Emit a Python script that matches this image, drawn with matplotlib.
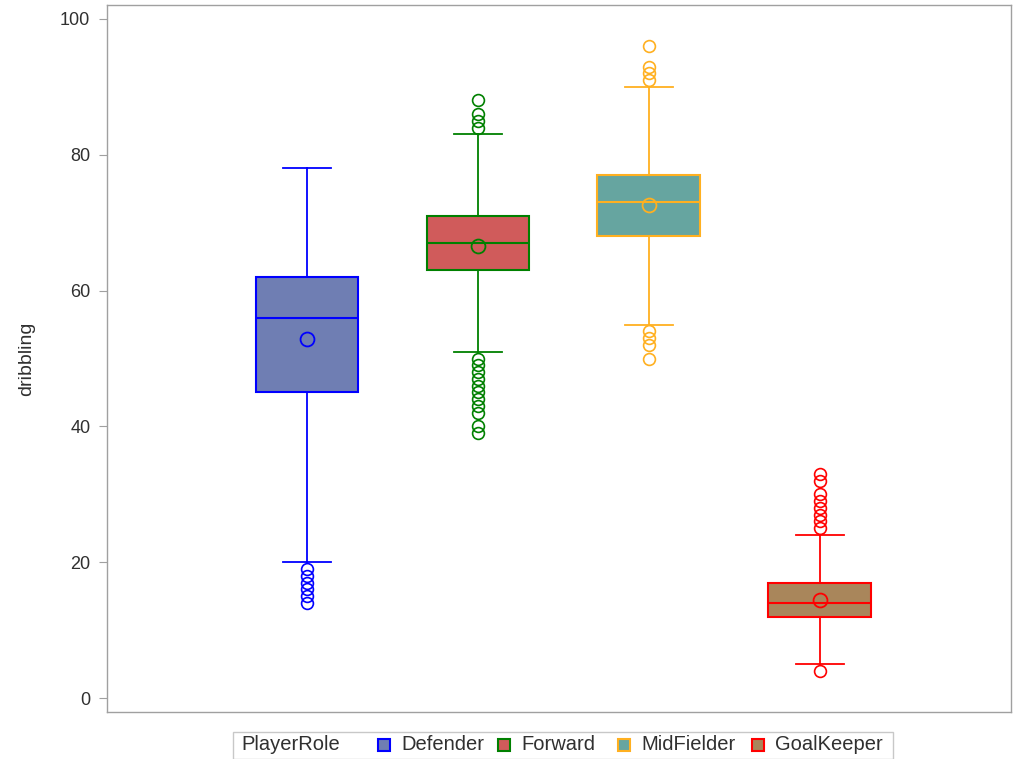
import matplotlib
matplotlib.use("Agg")
import matplotlib.pyplot as plt
from matplotlib.patches import Rectangle

plt.rcParams['font.family'] = ['Liberation Sans', 'DejaVu Sans']

# Box statistics of dribbling per player role
roles = ["Defender", "Forward", "MidFielder", "GoalKeeper"]
whisker_low = [20, 51, 55, 5]
q1 = [45, 63, 68, 12]
median = [56, 67, 73, 14]
q3 = [62, 71, 77, 17]
whisker_high = [78, 83, 90, 24]
means = [52.8, 66.5, 72.6, 14.5]
outliers_defender = [14, 15, 16, 17, 18, 19]
outliers_forward = [39, 40, 42, 43, 44, 45, 46, 47, 48, 49, 50, 84, 85, 86, 88]
outliers_midfielder = [50, 52, 53, 54, 91, 92, 93, 96]
outliers_goalkeeper = [4, 25, 26, 27, 28, 29, 30, 32, 33]
outliers = [outliers_defender, outliers_forward, outliers_midfielder, outliers_goalkeeper]

fill_colors = ["#6F7EB3", "#D05B5B", "#66A5A0", "#A9865B"]
edge_colors = ["#0000FF", "#008000", "#FFB020", "#FF0000"]
y_ticks = [0, 20, 40, 60, 80, 100]

W, H = 1013, 759
fig = plt.figure(figsize=(W / 100, H / 100), dpi=100)
ax = fig.add_axes([107 / W, (H - 712) / H, (1011 - 107) / W, (712 - 5) / H])

positions = list(range(len(roles)))
for i, role in enumerate(roles):
    stats = [{
        "whislo": whisker_low[i], "q1": q1[i], "med": median[i], "q3": q3[i],
        "whishi": whisker_high[i], "mean": means[i], "fliers": outliers[i], "label": role,
    }]
    ec = edge_colors[i]
    ax.bxp(
        stats, positions=[positions[i]], widths=0.6, capwidths=0.28,
        patch_artist=True, showmeans=True, showfliers=True,
        boxprops=dict(facecolor=fill_colors[i], edgecolor=ec, linewidth=1.5),
        medianprops=dict(color=ec, linewidth=1.5),
        whiskerprops=dict(color=ec, linewidth=1.3),
        capprops=dict(color=ec, linewidth=1.3),
        meanprops=dict(marker="o", markerfacecolor="none", markeredgecolor=ec,
                       markersize=10, markeredgewidth=1.3),
        flierprops=dict(marker="o", markerfacecolor="none", markeredgecolor=ec,
                        markersize=8.5, markeredgewidth=1.2),
    )

ax.set_xlim(-1.17, 4.12)
ax.set_ylim(-2.06, 102.06)
ax.set_xticks([])
ax.set_yticks(y_ticks)
ax.set_yticklabels([str(t) for t in y_ticks])
ax.tick_params(axis="y", direction="out", length=6, color="#A0A0A0",
               labelsize=13, labelcolor="#303030", pad=6)
for s in ax.spines.values():
    s.set_color("#A0A0A0")
    s.set_linewidth(1.0)
ax.set_ylabel("dribbling", fontsize=14, color="#303030", labelpad=18)

# Legend strip along the bottom
fig.patches.append(Rectangle((233 / W, 0.5 / H), (893 - 233) / W, (H - 731 - 1) / H,
                             transform=fig.transFigure, facecolor="white",
                             edgecolor="#C8C8C8", linewidth=1.0))
yc = 1 - 745 / H
fig.text(241 / W, yc, "PlayerRole", fontsize=14.5, color="#303030", va="center", ha="left")
square_x = [378, 498, 618, 752]
for i, role in enumerate(roles):
    sx = square_x[i]
    fig.patches.append(Rectangle((sx / W, yc - 6 / H), 12 / W, 12 / H,
                                 transform=fig.transFigure, facecolor=fill_colors[i],
                                 edgecolor=edge_colors[i], linewidth=1.5))
    fig.text((sx + 23) / W, yc, role, fontsize=14.5, color="#303030", va="center", ha="left")

fig.savefig("out.png", dpi=100, facecolor="white")
